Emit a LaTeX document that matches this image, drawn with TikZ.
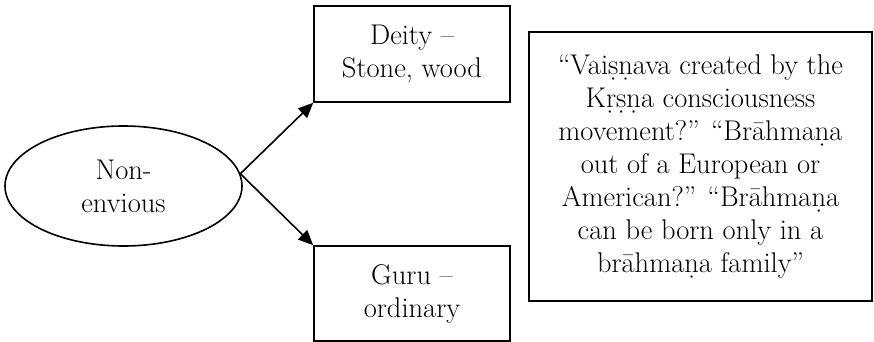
\documentclass[tikz,border=0pt]{standalone}
\usepackage{fontspec}
\usetikzlibrary{shapes.geometric,arrows.meta}
\begin{document}
\begin{tikzpicture}[x=1pt,y=-1pt,
  every node/.style={font=\fontsize{28.5}{33}\selectfont, align=center, inner sep=0pt, line width=1.6pt},
  box/.style={draw, rectangle},
  oval/.style={draw, ellipse},
  link/.style={line width=1.6pt, -{Triangle[length=15pt,width=13pt]}}]
  \useasboundingbox (0,0) rectangle (874,342);
  % source ellipse and its two targets
  \node[oval, minimum width=237pt, minimum height=120pt] (src) at (123.5,186) {Non-\\envious};
  \node[box, minimum width=196pt, minimum height=96pt] (deity) at (412,54)
    {\fontsize{28.5}{28}\selectfont Deity –\\Stone, wood};
  \node[box, minimum width=196pt, minimum height=95pt] (guru) at (412,293.5)
    {\fontsize{28.5}{36}\selectfont Guru –\\ordinary};
  % quotation box
  \node[box, minimum width=343pt, minimum height=269pt] (quote) at (700.5,166.5)
    {\raisebox{5pt}{\begin{tabular}{@{}c@{}}
      “Vaiṣṇava created by the\\
      Kṛṣṇa consciousness\\
      movement?” “Brāhmaṇa\\
      out of a European or\\
      American?” “Brāhmaṇa\\
      can be born only in a\\
      brāhmaṇa family”
    \end{tabular}}};
  % connectors
  \coordinate (fork) at (src.6);
  \draw[link] (fork) -- (deity.south west);
  \draw[link] (fork) -- (guru.north west);
\end{tikzpicture}
\end{document}
